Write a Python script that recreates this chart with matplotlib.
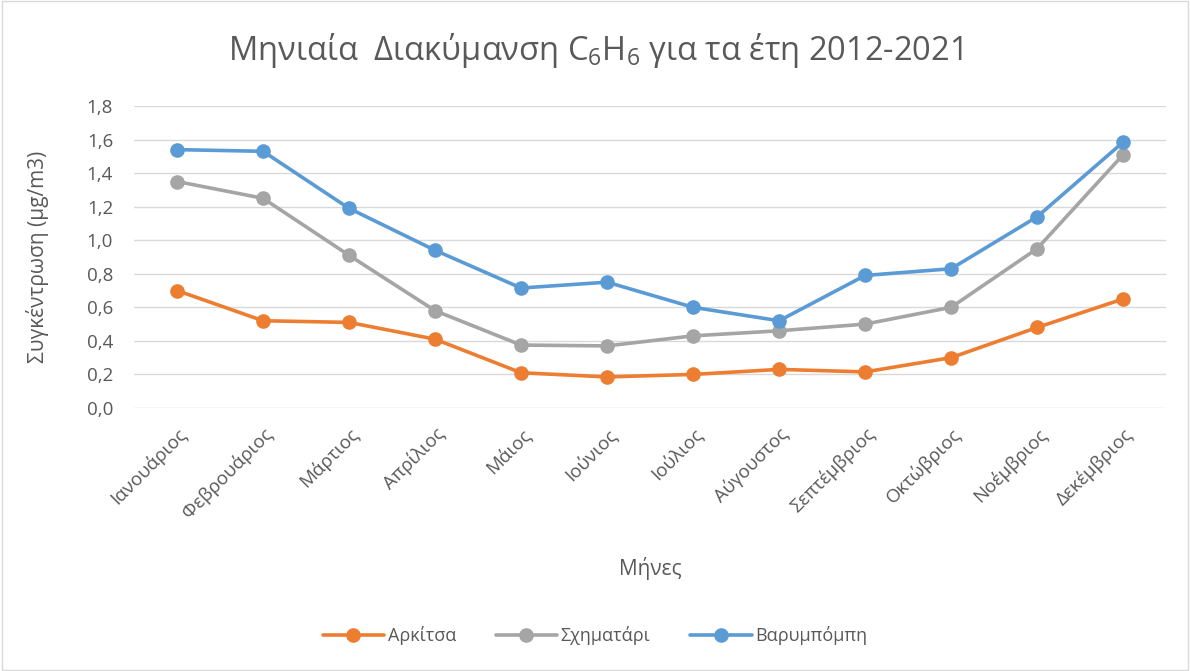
import matplotlib
matplotlib.use("Agg")
from matplotlib import pyplot as plt
from matplotlib.ticker import FuncFormatter, MultipleLocator
from matplotlib.patches import Rectangle

months = ["Ιανουάριος", "Φεβρουάριος", "Μάρτιος", "Απρίλιος", "Μάιος", "Ιούνιος",
          "Ιούλιος", "Αύγουστος", "Σεπτέμβριος", "Οκτώβριος", "Νοέμβριος", "Δεκέμβριος"]
arkitsa = [0.70, 0.52, 0.51, 0.41, 0.21, 0.185, 0.20, 0.23, 0.215, 0.30, 0.48, 0.65]
sximatari = [1.35, 1.25, 0.91, 0.58, 0.375, 0.37, 0.43, 0.46, 0.50, 0.60, 0.95, 1.51]
varympompi = [1.54, 1.53, 1.19, 0.94, 0.715, 0.75, 0.60, 0.52, 0.79, 0.83, 1.14, 1.585]

plt.rcParams['font.family'] = ['Open Sans', 'DejaVu Sans']
plt.rcParams['mathtext.fontset'] = 'custom'
plt.rcParams['mathtext.rm'] = 'Open Sans'
plt.rcParams['mathtext.it'] = 'Open Sans'

txt = '#595959'
fig = plt.figure(figsize=(11.9, 6.71), dpi=100)
fig.patches.append(Rectangle((0.002, 0.002), 0.996, 0.996, transform=fig.transFigure,
                             fill=False, edgecolor='#D9D9D9', linewidth=1))
ax = fig.add_axes([0.1126, 0.392, 0.8674, 0.450])

x = list(range(len(months)))
series = [("Αρκίτσα", arkitsa, '#ED7D31'),
          ("Σχηματάρι", sximatari, '#A5A5A5'),
          ("Βαρυμπόμπη", varympompi, '#5B9BD5')]
for name, vals, col in series:
    ax.plot(x, vals, color=col, linewidth=2.6, marker='o', markersize=9.5, label=name,
            solid_capstyle='round', zorder=3)

ax.set_xlim(-0.5, len(months) - 0.5)
ax.set_ylim(0, 1.8)
ax.yaxis.set_major_locator(MultipleLocator(0.2))
ax.yaxis.set_major_formatter(FuncFormatter(lambda v, p: ("%.1f" % v).replace('.', ',')))
ax.grid(axis='y', color='#D9D9D9', linewidth=1)
ax.set_axisbelow(True)
for s in ax.spines.values():
    s.set_visible(False)
ax.tick_params(length=0, colors=txt, labelsize=13.5)
ax.tick_params(axis='y', pad=15)
ax.set_xticks(x)
ax.set_xticklabels(months, rotation=45, ha='right', rotation_mode='anchor')
ax.tick_params(axis='x', pad=12)

ax.set_ylabel("Συγκέντρωση (μg/m3)", color=txt, fontsize=15)
ax.yaxis.set_label_coords(-0.082, 0.5)
ax.set_xlabel("Μήνες", color=txt, fontsize=15)
ax.xaxis.set_label_coords(0.5, -0.495)
fig.text(0.5, 0.925, "Μηνιαία  Διακύμανση C$_6$H$_6$ για τα έτη 2012-2021",
         ha='center', va='center', fontsize=23.5, color=txt)

ax.legend(loc='center', bbox_to_anchor=(0.5, 0.053), bbox_transform=fig.transFigure,
          ncol=3, frameon=False, fontsize=13, labelcolor=txt, handlelength=3.4,
          columnspacing=2.2, handletextpad=0.2)

fig.savefig("out.png", dpi=100)
